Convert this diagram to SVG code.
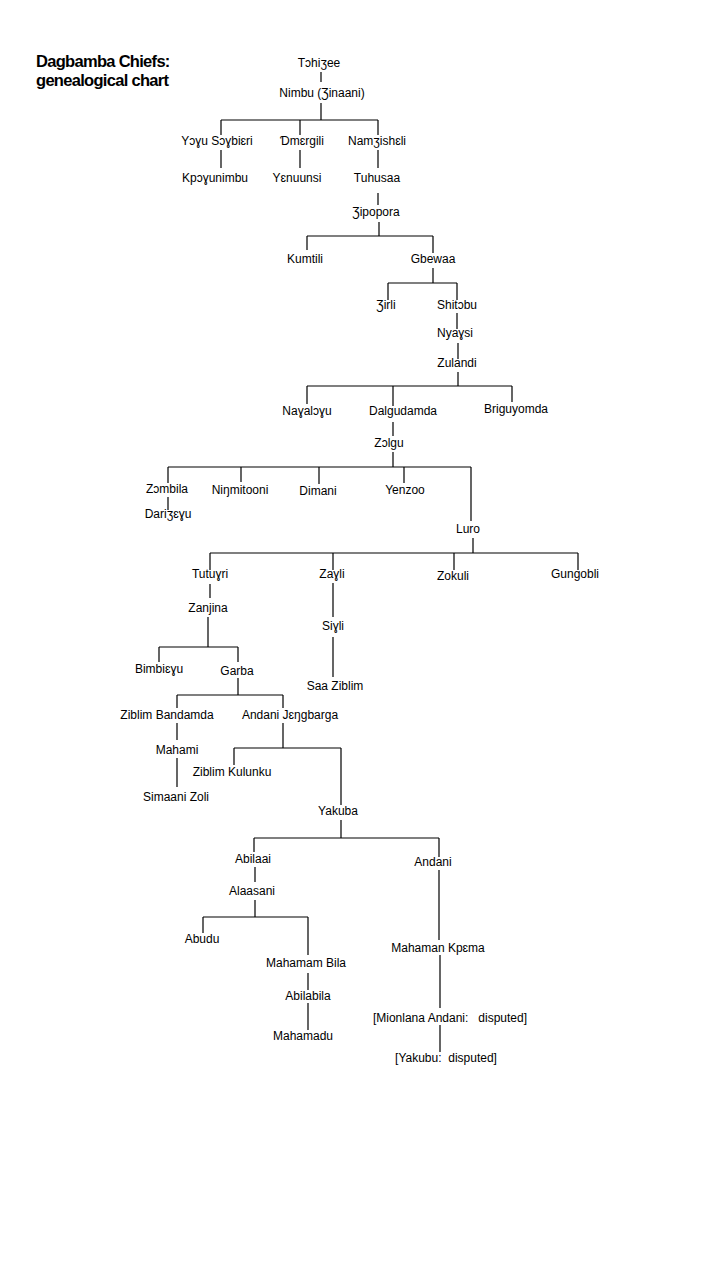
<svg xmlns="http://www.w3.org/2000/svg" width="720" height="1280" viewBox="0 0 720 1280">
<style>
.t{font-family:"Liberation Sans",Arial,sans-serif;font-size:12px;fill:#000;text-anchor:middle;white-space:pre}
.h{font-family:"Liberation Sans",Arial,sans-serif;font-size:16.5px;font-weight:bold;fill:#000;letter-spacing:-0.7px}
.c{fill:none;stroke:#000;stroke-width:1.2}
</style>
<rect width="720" height="1280" fill="#fff"/>
<g id="title">
<text class="h" x="36" y="67">Dagbamba Chiefs:</text>
<text class="h" x="36" y="86">genealogical chart</text>
</g>
<g id="connectors" class="c">
<path d="M321 72V82M321 103V120M221 120H378M221 120V135M300 120V135M378 120V135"/>
<path d="M221 150V168M300 150V168M378 150V168M378 193V205"/>
<path d="M379 222V236M307 236H433M307 236V250M433 236V253"/>
<path d="M433 268V283M388 283H457M388 283V300M457 283V300M457 313V329M458 343V359"/>
<path d="M458 372V386M307 386H512M307 386V404M393 386V406M512 386V402"/>
<path d="M393 422V436M393 452V467M168 467H471M168 467V483M241 467V482M319 467V484M404 467V483M471 467V521M168 497V510"/>
<path d="M473 538V553M210 553H578M210 553V570M333 553V570M454 553V570M578 553V570"/>
<path d="M210 584V598M208 617V647M159 647H238M159 647V662M238 647V662M333 583V617M333 637V677"/>
<path d="M238 678V695M177 695H283M177 695V708M283 695V708M177 723V740M177 758V787"/>
<path d="M283 723V748M234 748H341M234 748V765M341 748V805"/>
<path d="M341 820V838M254 838H439M254 838V852M439 838V857M255 867V882M255 900V917M203 917H308M203 917V933M308 917V955"/>
<path d="M439 870V940M308 973V990M308 1003V1030M440 955V1008M440 1025V1052"/>
</g>
<g id="n1"><text class="t" x="319" y="67">Tɔhiʒee</text></g>
<g id="n2"><text class="t" x="322" y="97">Nimbu (Ʒinaani)</text></g>
<g id="n3"><text class="t" x="217" y="145">Yɔɣu Sɔɣbiɛri</text></g>
<g id="n4"><text class="t" x="302" y="145">Ɗmɛrgili</text></g>
<g id="n5"><text class="t" x="377" y="145">Namʒishɛli</text></g>
<g id="n6"><text class="t" x="215" y="182">Kpɔɣunimbu</text></g>
<g id="n7"><text class="t" x="297" y="182">Yɛnuunsi</text></g>
<g id="n8"><text class="t" x="377" y="182">Tuhusaa</text></g>
<g id="n9"><text class="t" x="376" y="216">Ʒipopora</text></g>
<g id="n10"><text class="t" x="305" y="263">Kumtili</text></g>
<g id="n11"><text class="t" x="433" y="263">Gbewaa</text></g>
<g id="n12"><text class="t" x="386" y="309">Ʒirli</text></g>
<g id="n13"><text class="t" x="457" y="309">Shitɔbu</text></g>
<g id="n14"><text class="t" x="455" y="337">Nyaɣsi</text></g>
<g id="n15"><text class="t" x="457" y="367">Zulandi</text></g>
<g id="n16"><text class="t" x="307" y="415">Naɣalɔɣu</text></g>
<g id="n17"><text class="t" x="403" y="415">Dalgudamda</text></g>
<g id="n18"><text class="t" x="516" y="413">Briguyomda</text></g>
<g id="n19"><text class="t" x="389" y="447">Zɔlgu</text></g>
<g id="n20"><text class="t" x="167" y="493">Zɔmbila</text></g>
<g id="n21"><text class="t" x="240" y="494">Niŋmitooni</text></g>
<g id="n22"><text class="t" x="318" y="495">Dimani</text></g>
<g id="n23"><text class="t" x="405" y="494">Yenzoo</text></g>
<g id="n24"><text class="t" x="168" y="518">Dariʒɛɣu</text></g>
<g id="n25"><text class="t" x="468" y="533">Luro</text></g>
<g id="n26"><text class="t" x="210" y="578">Tutuɣri</text></g>
<g id="n27"><text class="t" x="332" y="578">Zaɣli</text></g>
<g id="n28"><text class="t" x="453" y="580">Zokuli</text></g>
<g id="n29"><text class="t" x="575" y="578">Gungobli</text></g>
<g id="n30"><text class="t" x="208" y="612">Zanjina</text></g>
<g id="n31"><text class="t" x="333" y="630">Siɣli</text></g>
<g id="n32"><text class="t" x="159" y="673">Bimbiɛɣu</text></g>
<g id="n33"><text class="t" x="237" y="675">Garba</text></g>
<g id="n34"><text class="t" x="335" y="690">Saa Ziblim</text></g>
<g id="n35"><text class="t" x="167" y="719">Ziblim Bandamda</text></g>
<g id="n36"><text class="t" x="290" y="719">Andani Jɛŋgbarga</text></g>
<g id="n37"><text class="t" x="177" y="754">Mahami</text></g>
<g id="n38"><text class="t" x="232" y="776">Ziblim Kulunku</text></g>
<g id="n39"><text class="t" x="176" y="801">Simaani Zoli</text></g>
<g id="n40"><text class="t" x="338" y="815">Yakuba</text></g>
<g id="n41"><text class="t" x="253" y="863">Abilaai</text></g>
<g id="n42"><text class="t" x="433" y="866">Andani</text></g>
<g id="n43"><text class="t" x="252" y="895">Alaasani</text></g>
<g id="n44"><text class="t" x="202" y="943">Abudu</text></g>
<g id="n45"><text class="t" x="438" y="952">Mahaman Kpɛma</text></g>
<g id="n46"><text class="t" x="306" y="967">Mahamam Bila</text></g>
<g id="n47"><text class="t" x="308" y="1000">Abilabila</text></g>
<g id="n48"><text class="t" x="303" y="1040">Mahamadu</text></g>
<g id="n49"><text class="t" x="450" y="1022">[Mionlana Andani:   disputed]</text></g>
<g id="n50"><text class="t" x="446" y="1062">[Yakubu:  disputed]</text></g>
</svg>
